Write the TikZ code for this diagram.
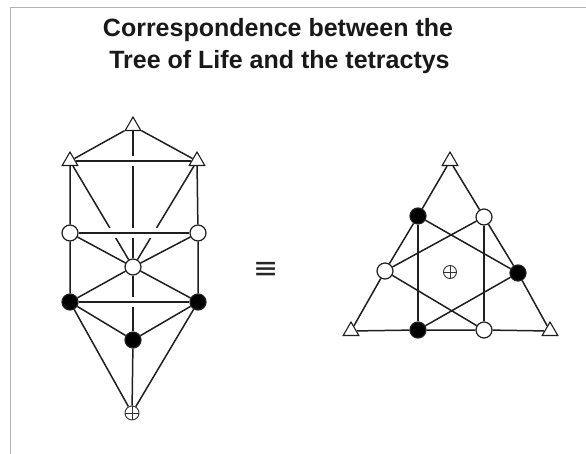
\documentclass[tikz,border=0pt]{standalone}
\usepackage{fontspec}
\setmainfont{Liberation Sans}
\newfontfamily\symfont{DejaVu Sans}
\usetikzlibrary{shapes.geometric,backgrounds}
\begin{document}
\begin{tikzpicture}[x=1pt,y=-1pt,
  ln/.style={line width=1.5pt, draw=black!88},
  over/.style={ln, preaction={draw=white, line width=10pt}},
  wnode/.style={circle, draw=black!88, fill=white, line width=1.2pt, minimum size=16pt, inner sep=0pt},
  bnode/.style={circle, draw=black!88, fill=black, line width=1.2pt, minimum size=16pt, inner sep=0pt},
  tnode/.style={regular polygon, regular polygon sides=3, draw=black!88, fill=white, line width=1.1pt, minimum size=18pt, inner sep=0pt},
  enode/.style={circle, draw=black!80, fill=white, line width=0.9pt, minimum size=#1, inner sep=0pt,
    path picture={\draw[line width=0.9pt,black!80] (path picture bounding box.north) -- (path picture bounding box.south)
      (path picture bounding box.west) -- (path picture bounding box.east);}},
  title/.style={font=\bfseries\fontsize{25}{30}\selectfont, anchor=base, text=black!90, inner sep=0pt},
  frame/.style={draw=black!30, line width=1pt},
]
\useasboundingbox (0,0) rectangle (586,454);

\node[title] (t1) at (278,36.7) {Correspondence between the};
\node[title] (t2) at (279.5,68.3) {Tree of Life and the tetractys};

% Tree of Life nodes
\node[tnode] (T1) at (133,126) {};
\node[tnode] (T2) at (70,161) {};
\node[tnode] (T3) at (197,161) {};
\node[wnode] (W1) at (70,233) {};
\node[wnode] (W2) at (198,233) {};
\node[wnode] (C) at (133,267) {};
\node[bnode] (B1) at (70,302) {};
\node[bnode] (B2) at (198,302) {};
\node[bnode] (B3) at (133,340) {};
\node[enode=14pt] (E) at (132,413) {};

% tetractys nodes
\node[tnode] (A) at (450,161) {};
\node[tnode] (L) at (351,331) {};
\node[tnode] (R) at (550,331) {};
\node[bnode] (bUL) at (418,216) {};
\node[wnode] (wUR) at (484,217) {};
\node[wnode] (wL) at (385,271) {};
\node[bnode] (bR) at (518,273) {};
\node[bnode] (bB) at (418,330) {};
\node[wnode] (wB) at (484,330) {};
\node[enode=13pt] (E2) at (450,272) {};

% equivalence sign
\node[font=\symfont\fontsize{30}{30}\selectfont, text=black!85] (eq) at (266,270) {≡};

\begin{pgfonlayer}{background}
  \fill[white] (0,0) rectangle (586,454);
  \draw[frame] (10,454) -- (10,8) -- (586,8);
  % lines passing under horizontals
  \draw[ln] (T1) -- (C) (C) -- (B3);
  \draw[ln] (T2) -- (C) (T3) -- (C);
  % horizontals with gaps
  \draw[over] (T2) -- (T3);
  \draw[over] (W1) -- (W2);
  \draw[over] (B1) -- (B2);
  % remaining lines
  \draw[ln] (T1) -- (T2) (T1) -- (T3);
  \draw[ln] (T2) -- (W1) -- (B1) (T3) -- (W2) -- (B2);
  \draw[ln] (W1) -- (C) -- (W2) (B1) -- (C) -- (B2);
  \draw[ln] (B1) -- (B3) -- (B2);
  \draw[ln] (B3) -- (E) (B1) -- (E) (B2) -- (E);
  % tetractys
  \draw[ln] (A) -- (bUL) -- (wL) -- (L) -- (bB) -- (wB) -- (R) -- (bR) -- (wUR) -- (A);
  \draw[ln] (bUL) -- (bB) (wUR) -- (wB);
  \draw[ln] (wL) -- (wUR) (bUL) -- (bR) (wL) -- (wB) (bR) -- (bB);
\end{pgfonlayer}
\end{tikzpicture}
\end{document}
